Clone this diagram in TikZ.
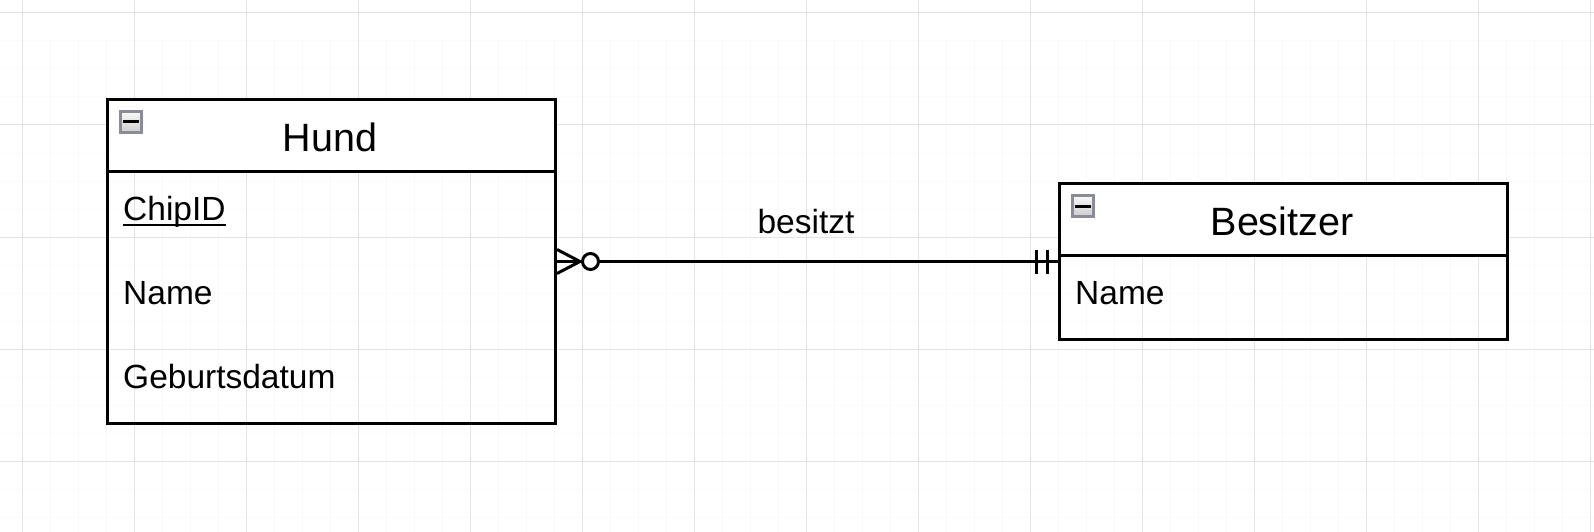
\documentclass[tikz,border=0pt]{standalone}
\usepackage{fontspec}
\setmainfont{Liberation Sans}
\usetikzlibrary{calc}
\definecolor{majorgrid}{HTML}{E3E3E3}
\definecolor{minorgridv}{HTML}{F8F8F8}
\definecolor{minorgridh}{HTML}{FBFBFB}
\definecolor{iconborder}{HTML}{8A8D98}
\begin{document}
\begin{tikzpicture}[x=1pt,y=-1pt,
  entity/.style={draw, line width=3pt, inner sep=0pt, anchor=north west, minimum width=448pt},
  header/.style={entity, fill=white, minimum height=72pt},
  titletext/.style={font=\fontsize{39.5}{45}\selectfont, anchor=base, inner sep=0pt},
  attr/.style={font=\fontsize{33.5}{38}\selectfont, anchor=base west, inner sep=0pt},
  icon/.style={draw=iconborder, line width=3pt, minimum size=21.5pt, inner sep=0pt,
    top color=white!96!gray, bottom color=gray!40},
  conn/.style={line width=3pt},
  mgrid/.style={draw=majorgrid, line width=1pt},
  vgrid/.style={draw=minorgridv, line width=1pt},
  hgrid/.style={draw=minorgridh, line width=1pt}
]
\useasboundingbox (0,0) rectangle (1594,532);
\fill[white] (0,0) rectangle (1594,532);
% minor grid
\foreach \i in {0,...,56} \draw[vgrid] (22+28*\i,41) -- (22+28*\i,532);
\foreach \j in {0,...,17} \draw[hgrid] (0,41+28*\j) -- (1594,41+28*\j);
% major grid
\foreach \i in {0,...,14} \draw[mgrid] (22+112*\i,0) -- (22+112*\i,532);
\foreach \j in {0,...,4} \draw[mgrid] (0,13+112*\j) -- (1594,13+112*\j);

% Hund
\node[entity, minimum height=324pt] (hund) at (106,98) {};
\node[header] (hundhead) at (106,98) {};
\node[icon] (hundicon) at ($(hundhead.north west)+(25,24)$) {};
\draw[line width=3pt] ($(hundicon.center)+(-8,0)$) -- ($(hundicon.center)+(8,0)$);
\node[titletext] (hundtitle) at (330,151) {Hund};
\node[attr] (chip) at (123,220) {ChipID};
\draw[line width=2.2pt] ($(chip.base west)+(0,5)$) -- ($(chip.base east)+(0,5)$);
\node[attr] (hname) at (123,304) {Name};
\node[attr] (geb) at (123,388) {Geburtsdatum};

% Besitzer
\node[entity, minimum height=156pt] (besitzer) at (1058,182) {};
\node[header] (besitzerhead) at (1058,182) {};
\node[icon] (besicon) at ($(besitzerhead.north west)+(25,24)$) {};
\draw[line width=3pt] ($(besicon.center)+(-8,0)$) -- ($(besicon.center)+(8,0)$);
\node[titletext] (bestitle) at (1282,235) {Besitzer};
\node[attr] (bname) at (1075,304) {Name};

% relationship: many (zero or more) Hund -- exactly one Besitzer
\coordinate (cf) at ($(hund.east)+(23,0)$);
\draw[conn] ($(hund.east)+(0,-12)$) -- (cf) -- ($(hund.east)+(0,12)$);
\draw[conn] (hund.east) -- (cf);
\node[circle, draw, line width=3pt, minimum size=16pt, inner sep=0pt] (zero) at ($(hund.east)+(33.5,0)$) {};
\draw[conn] (zero.east) -- (besitzer.west);
\draw[conn] ($(besitzer.west)+(-22,-12)$) -- ($(besitzer.west)+(-22,12)$);
\draw[conn] ($(besitzer.west)+(-11,-12)$) -- ($(besitzer.west)+(-11,12)$);
\node[attr, anchor=base] (lbl) at (806,233) {besitzt};
\end{tikzpicture}
\end{document}
